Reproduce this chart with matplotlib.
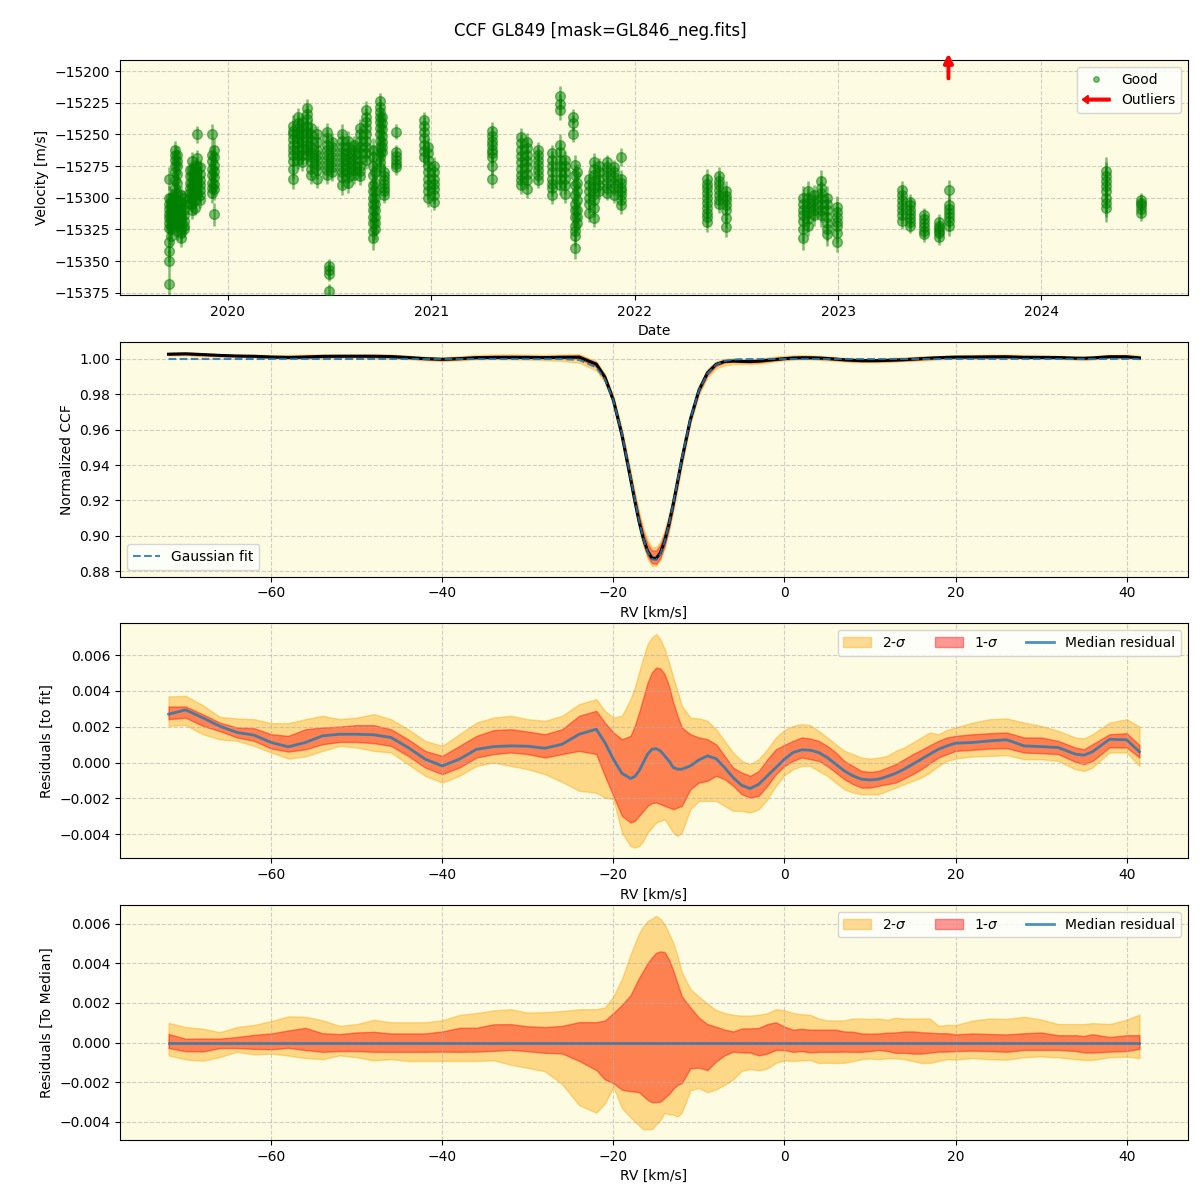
import numpy as np
import pandas as pd
import matplotlib
matplotlib.use("Agg")
import matplotlib.pyplot as plt
import matplotlib.dates as mdates
import matplotlib.patches as mpatches
from matplotlib.lines import Line2D
from matplotlib.legend_handler import HandlerPatch

# ---------------- Panel 1 data: RV time series (m/s) ----------------
night_dates = [
    "2019-09-18", "2019-09-22", "2019-09-28", "2019-10-03", "2019-10-09", "2019-10-14",
    "2019-10-25", "2019-10-30", "2019-11-04", "2019-11-07", "2019-11-12", "2019-12-04",
    "2019-12-08",
    "2020-04-28", "2020-05-06", "2020-05-14", "2020-05-22", "2020-05-30", "2020-06-10",
    "2020-06-27", "2020-07-02", "2020-07-06", "2020-07-24", "2020-08-05", "2020-08-15",
    "2020-08-26", "2020-09-05", "2020-09-18", "2020-09-22", "2020-09-30", "2020-10-04",
    "2020-10-08", "2020-10-30", "2020-12-18", "2020-12-26", "2021-01-06",
    "2021-04-20", "2021-06-10", "2021-06-22", "2021-07-12", "2021-08-06", "2021-08-20",
    "2021-08-28", "2021-09-12", "2021-09-16", "2021-09-20", "2021-10-10", "2021-10-20",
    "2021-10-28", "2021-11-12", "2021-11-24", "2021-12-08",
    "2022-05-10", "2022-06-02", "2022-06-14", "2022-10-30", "2022-11-08", "2022-11-18",
    "2022-12-02", "2022-12-12", "2022-12-30", "2023-04-25", "2023-05-10", "2023-06-05",
    "2023-07-01", "2023-07-19", "2024-04-25", "2024-06-28",
]
night_rvs = [
    [-15285, -15300, -15305, -15309, -15313, -15316, -15320, -15324, -15335, -15342, -15350, -15368],
    [-15300, -15303, -15306, -15309, -15312, -15315, -15318, -15322, -15325, -15330],
    [-15262, -15266, -15270, -15275, -15280, -15286, -15292, -15296, -15300, -15305, -15311, -15320],
    [-15266, -15271, -15275, -15281, -15288, -15296, -15305, -15310, -15315, -15320, -15326],
    [-15298, -15303, -15308, -15312, -15315, -15318, -15322, -15325, -15328, -15332],
    [-15300, -15305, -15310, -15314, -15318, -15322, -15325],
    [-15278, -15283, -15288, -15292, -15296, -15300, -15304],
    [-15271, -15277, -15283, -15288, -15292, -15296, -15300, -15305, -15310],
    [-15276, -15282, -15288, -15293, -15297, -15302, -15308],
    [-15250, -15269, -15275, -15280, -15285, -15290, -15297],
    [-15276, -15281, -15286, -15290, -15294, -15298, -15302],
    [-15250, -15266, -15271, -15277, -15282, -15288, -15292, -15296],
    [-15262, -15268, -15274, -15279, -15284, -15289, -15293, -15313],
    [-15243, -15247, -15250, -15254, -15258, -15262, -15266, -15271, -15277, -15285],
    [-15236, -15241, -15245, -15249, -15253, -15257, -15262, -15266, -15270],
    [-15240, -15245, -15250, -15255, -15261, -15266, -15272],
    [-15229, -15234, -15238, -15243, -15248, -15253, -15258, -15262, -15266],
    [-15245, -15250, -15255, -15260, -15264, -15268, -15272, -15277, -15282],
    [-15250, -15256, -15262, -15266, -15270, -15274, -15278, -15285],
    [-15248, -15253, -15258, -15262, -15266, -15270, -15274, -15278, -15282],
    [-15354, -15357, -15360, -15374],
    [-15256, -15260, -15264, -15268, -15272, -15276, -15280],
    [-15250, -15255, -15260, -15264, -15268, -15272, -15276, -15280, -15284, -15290],
    [-15255, -15260, -15265, -15268, -15272, -15276, -15280, -15284, -15288],
    [-15258, -15262, -15266, -15270, -15274, -15278, -15282],
    [-15245, -15250, -15255, -15260, -15265, -15270, -15275, -15279, -15283],
    [-15231, -15236, -15240, -15245, -15250, -15255, -15260, -15265, -15270],
    [-15262, -15268, -15275, -15282, -15290, -15295, -15300, -15305, -15310, -15315, -15320, -15326, -15332],
    [-15280, -15288, -15295, -15300, -15305, -15310, -15315, -15320, -15325],
    [-15224, -15228, -15232, -15236, -15240, -15245, -15250, -15255, -15260, -15264, -15268, -15272, -15276],
    [-15236, -15241, -15246, -15251, -15256, -15260, -15264],
    [-15280, -15283, -15286, -15289, -15292, -15295, -15298],
    [-15248, -15264, -15267, -15270, -15273, -15276],
    [-15239, -15243, -15248, -15253, -15258, -15263, -15268],
    [-15260, -15265, -15270, -15275, -15280, -15285, -15290, -15295, -15300],
    [-15275, -15280, -15285, -15289, -15293, -15298, -15303],
    [-15247, -15251, -15255, -15258, -15262, -15265, -15268, -15275, -15285],
    [-15252, -15257, -15262, -15267, -15272, -15277, -15282, -15286, -15290],
    [-15256, -15261, -15266, -15271, -15276, -15281, -15286, -15293],
    [-15262, -15266, -15270, -15274, -15278, -15282, -15286],
    [-15265, -15270, -15275, -15280, -15285, -15289, -15292, -15298],
    [-15220, -15226, -15231, -15258, -15264, -15270, -15275, -15280, -15285, -15290],
    [-15270, -15275, -15280, -15285, -15290, -15297],
    [-15236, -15241, -15250],
    [-15274, -15282, -15290, -15298, -15305, -15310, -15315, -15322, -15326, -15330, -15340],
    [-15280, -15288, -15295, -15302, -15310, -15315, -15320],
    [-15285, -15290, -15295, -15300, -15305, -15312],
    [-15272, -15277, -15282, -15287, -15292, -15297, -15302, -15308, -15316],
    [-15275, -15280, -15285, -15290, -15295],
    [-15272, -15276, -15280, -15284, -15288, -15292, -15296],
    [-15276, -15280, -15284, -15288, -15292, -15298],
    [-15268, -15285, -15288, -15292, -15295, -15298, -15302, -15306],
    [-15285, -15289, -15292, -15296, -15300, -15304, -15308, -15312, -15315, -15319],
    [-15283, -15287, -15290, -15294, -15298, -15302, -15305],
    [-15295, -15299, -15302, -15306, -15310, -15316, -15323],
    [-15300, -15305, -15310, -15314, -15318, -15325, -15332],
    [-15295, -15300, -15304, -15308, -15312, -15317, -15322],
    [-15298, -15302, -15306, -15310, -15314],
    [-15287, -15292, -15296, -15300, -15305, -15310, -15314],
    [-15300, -15305, -15310, -15315, -15320, -15325, -15329],
    [-15307, -15311, -15315, -15319, -15322, -15328, -15335],
    [-15294, -15298, -15302, -15306, -15310, -15314, -15318],
    [-15303, -15306, -15310, -15313, -15316, -15319, -15322],
    [-15314, -15317, -15320, -15323, -15326, -15329],
    [-15319, -15322, -15324, -15326, -15328, -15331],
    [-15294, -15306, -15309, -15312, -15315, -15318, -15322],
    [-15279, -15283, -15287, -15291, -15295, -15300, -15304, -15308],
    [-15302, -15304, -15306, -15309, -15312],
]
night_errs = [
    9, 7, 7, 7, 7, 6,
    6, 7, 6, 7, 6, 8,
    9,
    8, 7, 7, 7, 7, 7,
    7, 6, 7, 8, 8, 7,
    7, 7, 9, 8, 7, 7,
    6, 6, 7, 7, 7,
    7, 7, 7, 6, 7, 8,
    7, 6, 8, 7, 7, 7,
    6, 6, 6, 7,
    8, 7, 8, 9, 8, 8,
    9, 9, 8, 7, 6, 6,
    6, 8, 11, 6,
]
outlier_dates = ["2023-07-18"]

# ---------------- Panels 2-4 data: CCF and residual percentiles ----------------
rv_grid = [-72, -70, -68, -66, -64, -62, -60, -58, -56, -54, -52, -50, -48, -46, -44,
           -42, -40, -38, -36, -34, -32, -30, -28, -26, -24, -22, -21, -20, -19, -18,
           -17.5, -17, -16.5, -16, -15.5, -15, -14.5, -14, -13.5, -13, -12.5, -12,
           -11, -10, -9, -8, -7, -6, -5, -4, -3, -2, -1, 0,
           1, 2, 3, 4, 5, 6, 7, 8, 9, 10, 11, 12, 13, 14, 15, 16, 17, 18, 19, 20,
           22, 24, 26, 28, 30, 32, 34, 35, 36, 38, 40, 41.5]

# Gaussian fit evaluated on the RV grid (normalized CCF)
gauss_fit = [1.0, 1.0, 1.0, 1.0, 1.0, 1.0, 1.0, 1.0, 1.0, 1.0, 1.0, 1.0, 1.0, 1.0, 1.0,
             1.0, 1.0, 1.0, 1.0, 1.0, 1.0, 1.0, 1.0, 0.99996, 0.99944, 0.99522, 0.98865,
             0.97652, 0.95765, 0.93341,
             0.92069, 0.90872, 0.89848, 0.89090, 0.88670, 0.88631, 0.88977, 0.89672,
             0.90650, 0.91820, 0.93086, 0.94352,
             0.96601, 0.98216, 0.99184, 0.99675, 0.99887, 0.99966, 0.99991, 0.99998,
             1.0, 1.0, 1.0, 1.0,
             1.0, 1.0, 1.0, 1.0, 1.0, 1.0, 1.0, 1.0, 1.0, 1.0, 1.0, 1.0, 1.0, 1.0, 1.0,
             1.0, 1.0, 1.0, 1.0, 1.0,
             1.0, 1.0, 1.0, 1.0, 1.0, 1.0, 1.0, 1.0, 1.0, 1.0, 1.0, 1.0]

# residuals to fit, in units of 1e-3
res_hi2 = [3.69, 3.72, 3.20, 2.55, 2.46, 2.42, 2.20, 2.20, 2.42, 2.61, 2.42, 2.51, 2.70, 2.42, 1.86,
           1.21, 0.93, 1.58, 2.23, 2.51, 2.61, 2.42, 2.33, 2.61, 3.26, 3.54, 2.89, 2.51, 2.61, 3.54,
           4.19, 5.03, 5.87, 6.61, 6.98, 7.17, 6.89, 6.33, 5.59, 4.75, 4.00, 3.17,
           2.51, 2.46, 2.33, 1.86, 1.21, 0.56, 0.09, -0.09, 0.19, 0.74, 1.40, 1.82,
           2.05, 2.14, 2.09, 1.77, 1.40, 1.02, 0.65, 0.47, 0.28, 0.22, 0.28, 0.37, 0.65, 0.84, 1.12,
           1.40, 1.68, 1.58, 1.82, 1.96,
           2.23, 2.42, 2.46, 2.23, 2.05, 1.77, 1.40, 1.34, 1.58, 2.23, 2.42, 2.01]
res_hi1 = [3.13, 3.13, 2.70, 2.23, 1.96, 1.92, 1.58, 1.49, 1.86, 1.96, 2.01, 2.09, 2.09, 1.86, 1.30,
           0.65, 0.37, 0.93, 1.49, 1.81, 1.86, 1.73, 1.58, 1.86, 2.61, 2.89, 2.23, 1.68, 1.30, 1.49,
           2.05, 2.79, 3.63, 4.47, 5.03, 5.31, 5.25, 4.93, 4.28, 3.35, 2.61, 1.96,
           1.58, 1.40, 1.30, 1.02, 0.37, -0.28, -0.56, -0.74, -0.47, 0.19, 0.74, 0.99,
           1.21, 1.40, 1.34, 1.21, 0.93, 0.56, 0.09, -0.19, -0.47, -0.52, -0.47, -0.28, -0.09, 0.19, 0.47,
           0.71, 0.97, 1.21, 1.40, 1.49,
           1.58, 1.64, 1.68, 1.40, 1.40, 1.21, 0.84, 0.74, 1.02, 1.58, 1.64, 0.97]
res_med = [2.70, 2.94, 2.50, 2.03, 1.68, 1.53, 1.12, 0.88, 1.12, 1.49, 1.58, 1.58, 1.55, 1.40, 0.84,
           0.19, -0.19, 0.19, 0.74, 0.89, 0.93, 0.91, 0.80, 1.02, 1.58, 1.86, 1.12, 0.19, -0.60, -0.89,
           -0.78, -0.47, 0.00, 0.47, 0.74, 0.78, 0.65, 0.37, 0.09, -0.28, -0.37, -0.37,
           -0.19, 0.15, 0.37, 0.22, -0.28, -0.84, -1.27, -1.45, -1.21, -0.74, -0.28, 0.19,
           0.56, 0.71, 0.69, 0.56, 0.28, -0.09, -0.47, -0.74, -0.93, -0.97, -0.93, -0.78, -0.60, -0.37, -0.09,
           0.19, 0.47, 0.74, 0.93, 1.08,
           1.12, 1.21, 1.27, 0.93, 0.89, 0.84, 0.47, 0.41, 0.60, 1.30, 1.27, 0.60]
res_lo1 = [2.42, 2.50, 2.05, 1.75, 1.40, 1.21, 0.78, 0.61, 0.74, 1.02, 1.15, 1.15, 1.08, 0.93, 0.37,
           -0.28, -0.65, -0.28, 0.28, 0.47, 0.56, 0.47, 0.28, 0.47, 0.65, 0.47, -0.74, -1.86, -2.98, -3.35,
           -3.26, -2.98, -2.70, -2.42, -2.27, -2.23, -2.33, -2.42, -2.51, -2.61, -2.51, -2.42,
           -1.49, -1.12, -1.02, -0.74, -0.93, -1.30, -1.77, -1.96, -1.86, -1.30, -0.65, -0.19,
           0.09, 0.28, 0.19, 0.09, -0.19, -0.56, -0.93, -1.21, -1.40, -1.40, -1.30, -1.21, -1.12, -0.89, -0.65,
           -0.37, -0.04, 0.28, 0.47, 0.65,
           0.71, 0.78, 0.80, 0.56, 0.52, 0.47, 0.04, -0.09, 0.09, 0.84, 0.84, 0.28]
res_lo2 = [2.05, 2.09, 1.58, 1.30, 1.21, 0.93, 0.56, 0.22, 0.34, 0.65, 0.93, 0.84, 0.65, 0.56, -0.09,
           -0.74, -1.12, -0.74, -0.19, 0.00, -0.19, -0.37, -0.65, -1.08, -1.58, -1.68, -1.96, -2.05, -3.91, -4.66,
           -4.75, -4.66, -4.38, -3.91, -3.63, -3.35, -3.26, -3.17, -3.54, -3.91, -4.10, -3.91,
           -2.61, -2.14, -2.14, -2.14, -2.42, -2.70, -2.70, -2.79, -2.61, -2.05, -1.30, -0.71,
           -0.37, -0.19, -0.19, -0.47, -0.74, -1.12, -1.49, -1.68, -1.77, -1.77, -1.77, -1.58, -1.40, -1.21, -1.02,
           -0.84, -0.56, -0.19, 0.09, 0.22,
           0.34, 0.37, 0.41, 0.19, 0.19, 0.09, -0.37, -0.47, -0.28, 0.56, 0.56, -0.19]
RES_UNIT = 1e-3

# ---------------- styling ----------------
BG = "#FDFBE1"
GRID_KW = dict(linestyle="--", alpha=0.6)

rv = np.array(rv_grid)
fit = np.array(gauss_fit)
hi2 = np.array(res_hi2) * RES_UNIT
hi1 = np.array(res_hi1) * RES_UNIT
med = np.array(res_med) * RES_UNIT
lo1 = np.array(res_lo1) * RES_UNIT
lo2 = np.array(res_lo2) * RES_UNIT

fig, axes = plt.subplots(4, 1, figsize=(12, 12), dpi=100)
fig.subplots_adjust(left=0.1, right=0.99, top=0.95, bottom=0.05, hspace=0.2)
fig.suptitle("CCF GL849 [mask=GL846_neg.fits]", y=0.982, fontsize=12)

# ---- Panel 1
ax1 = axes[0]
ax1.set_facecolor(BG)
d_all, v_all, e_all = [], [], []
for d, vals, e in zip(night_dates, night_rvs, night_errs):
    for v in vals:
        d_all.append(pd.Timestamp(d))
        v_all.append(v)
        e_all.append(e)
ax1.errorbar(d_all, v_all, yerr=e_all, fmt="o", color="green", alpha=0.5,
             ms=7, elinewidth=1.8, zorder=3)
for od in outlier_dates:
    ax1.annotate("", xy=(pd.Timestamp(od), 1.04), xytext=(pd.Timestamp(od), 0.91),
                 xycoords=("data", "axes fraction"), textcoords=("data", "axes fraction"),
                 arrowprops=dict(arrowstyle="-|>", color="red", lw=2.8, mutation_scale=13),
                 annotation_clip=False, zorder=5)
ax1.set_ylim(-15376.6, -15191.3)
ax1.set_xlim(pd.Timestamp("2019-06-22"), pd.Timestamp("2024-09-20"))
ax1.xaxis.set_major_locator(mdates.YearLocator())
ax1.xaxis.set_major_formatter(mdates.DateFormatter("%Y"))
ax1.set_xlabel("Date")
ax1.set_ylabel("Velocity [m/s]")
ax1.grid(True, **GRID_KW)


def make_legend_arrow(legend, orig_handle, xdescent, ydescent, width, height, fontsize):
    return mpatches.FancyArrow(width, 0.5 * height, -width, 0, width=0.28 * height,
                               head_width=0.85 * height, head_length=0.6 * height,
                               length_includes_head=True, color="red")


good_handle = Line2D([], [], marker="o", ls="", color="green", alpha=0.5, ms=4)
out_handle = mpatches.FancyArrow(0, 0, 1, 0, color="red")
ax1.legend([good_handle, out_handle], ["Good", "Outliers"], loc="upper right",
           handler_map={mpatches.FancyArrow: HandlerPatch(patch_func=make_legend_arrow)})

# ---- Panel 2
ax2 = axes[1]
ax2.set_facecolor(BG)
ax2.fill_between(rv, fit + lo2, fit + hi2, color="orange", alpha=0.4)
ax2.fill_between(rv, fit + lo1, fit + hi1, color="red", alpha=0.4)
ax2.plot(rv, fit + med, color="black", lw=2.2)
ax2.plot(rv, fit, ls="--", color="C0", lw=1.5, alpha=0.85, label="Gaussian fit")
ax2.set_xlabel("RV [km/s]")
ax2.set_ylabel("Normalized CCF")
ax2.legend(loc="lower left")
ax2.grid(True, **GRID_KW)

# ---- Panel 3
ax3 = axes[2]
ax3.set_facecolor(BG)
ax3.fill_between(rv, lo2, hi2, color="orange", alpha=0.4, label="2-$\\sigma$")
ax3.fill_between(rv, lo1, hi1, color="red", alpha=0.4, label="1-$\\sigma$")
ax3.plot(rv, med, color="C0", lw=2, alpha=0.8, label="Median residual")
ax3.set_xlabel("RV [km/s]")
ax3.set_ylabel("Residuals [to fit]")
ax3.legend(loc="upper right", ncol=3)
ax3.grid(True, **GRID_KW)

# ---- Panel 4
ax4 = axes[3]
ax4.set_facecolor(BG)
ax4.fill_between(rv, lo2 - med, hi2 - med, color="orange", alpha=0.4, label="2-$\\sigma$")
ax4.fill_between(rv, lo1 - med, hi1 - med, color="red", alpha=0.4, label="1-$\\sigma$")
ax4.plot(rv, med - med, color="C0", lw=2, alpha=0.8, label="Median residual")
ax4.set_xlabel("RV [km/s]")
ax4.set_ylabel("Residuals [To Median]")
ax4.legend(loc="upper right", ncol=3)
ax4.grid(True, **GRID_KW)

fig.savefig("out.png", dpi=100)
